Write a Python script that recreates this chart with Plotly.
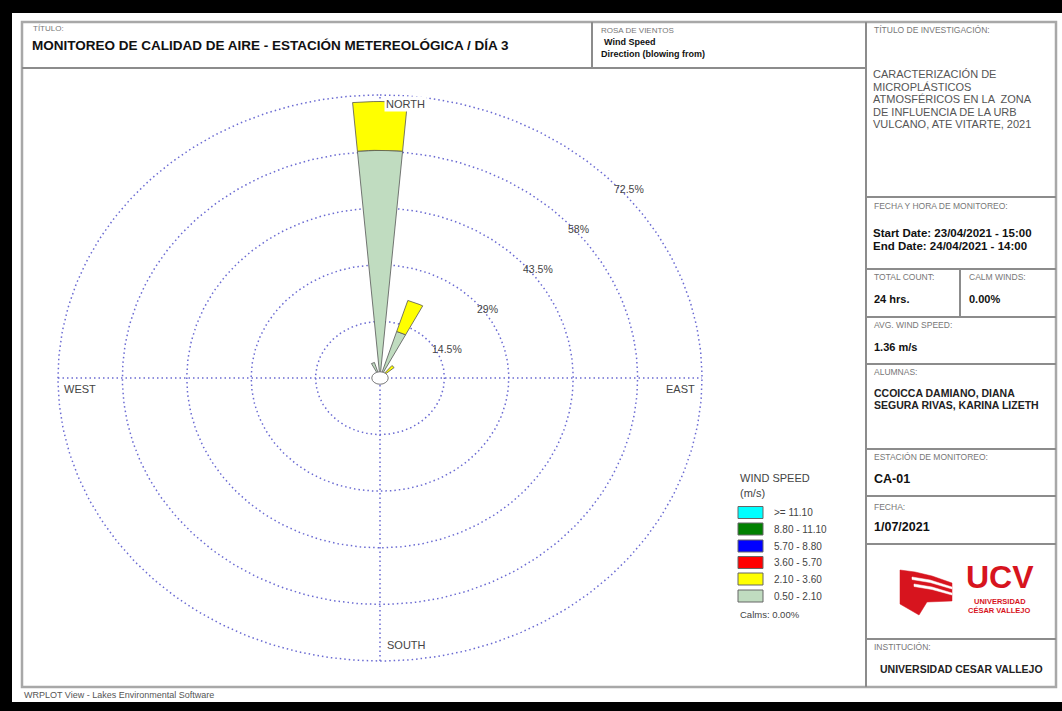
import numpy as np
import plotly.graph_objects as go

W, H = 1062, 711
FONT = "Liberation Sans, Arial, sans-serif"

# ---------------- data ----------------
directions = ["N", "NNE", "NE", "ENE", "E", "ESE", "SE", "SSE",
              "S", "SSW", "SW", "WSW", "W", "WNW", "NW", "NNW"]
dir_angles = [0.0, 22.5, 45.0, 67.5, 90.0, 112.5, 135.0, 157.5,
              180.0, 202.5, 225.0, 247.5, 270.0, 292.5, 315.0, 337.5]

speed_bins = ["0.50 - 2.10", "2.10 - 3.60", "3.60 - 5.70",
              "5.70 - 8.80", "8.80 - 11.10", ">= 11.10"]
bin_colors = ["#c0dcc0", "#ffff00", "#ff0000", "#0000ff", "#008000", "#00ffff"]

# frequency (% of hours) per direction for each speed class
freq_050_210 = [58.33, 12.50, 0.00, 0, 0, 0, 0, 0, 0, 0, 0, 0, 0, 0, 0, 4.17]
freq_210_360 = [12.50, 8.33, 4.17, 0, 0, 0, 0, 0, 0, 0, 0, 0, 0, 0, 0, 0.00]
freq_360_570 = [0, 0, 0, 0, 0, 0, 0, 0, 0, 0, 0, 0, 0, 0, 0, 0]
freq_570_880 = [0, 0, 0, 0, 0, 0, 0, 0, 0, 0, 0, 0, 0, 0, 0, 0]
freq_880_1110 = [0, 0, 0, 0, 0, 0, 0, 0, 0, 0, 0, 0, 0, 0, 0, 0]
freq_ge_1110 = [0, 0, 0, 0, 0, 0, 0, 0, 0, 0, 0, 0, 0, 0, 0, 0]
freq_series = [freq_050_210, freq_210_360, freq_360_570,
               freq_570_880, freq_880_1110, freq_ge_1110]

ring_values = [14.5, 29.0, 43.5, 58.0, 72.5]
ring_labels = ["14.5%", "29%", "43.5%", "58%", "72.5%"]
calms_text = "Calms: 0.00%"

# ---------------- geometry (pixel layout of the rose) ----------------
CX, CY = 380.0, 378.0          # centre pixel
SX = 322.0 / 72.5              # px per % horizontally
SY = 283.0 / 72.5              # px per % vertically
RANGE = 80.0
SECTOR_HALF = 5.0              # half width of a sector in degrees
GRID = dict(color="#6a6ad2", width=1.5, dash="1.5px,3px")


def PX(x):
    return x / W


def PY(y):
    return 1 - y / H


fig = go.Figure()

# rings
t = np.linspace(0, 2 * np.pi, 361)
for r in ring_values:
    fig.add_trace(go.Scatter(x=r * np.sin(t), y=r * np.cos(t), mode="lines",
                             line=GRID, hoverinfo="skip", showlegend=False))
rmax = max(ring_values)
fig.add_trace(go.Scatter(x=[-rmax, rmax], y=[0, 0], mode="lines",
                         line=GRID, hoverinfo="skip", showlegend=False))
fig.add_trace(go.Scatter(x=[0, 0], y=[-rmax, rmax], mode="lines",
                         line=GRID, hoverinfo="skip", showlegend=False))

# wedges (stacked by speed class)
for d, ang in enumerate(dir_angles):
    r0 = 0.0
    for b, series in enumerate(freq_series):
        v = series[d]
        if v <= 0:
            continue
        r1 = r0 + v
        a = np.radians(np.linspace(ang - SECTOR_HALF, ang + SECTOR_HALF, 9))
        xs = list(r1 * np.sin(a)) + list(r0 * np.sin(a[::-1]))
        ys = list(r1 * np.cos(a)) + list(r0 * np.cos(a[::-1]))
        xs.append(xs[0])
        ys.append(ys[0])
        fig.add_trace(go.Scatter(x=xs, y=ys, mode="lines", fill="toself",
                                 fillcolor=bin_colors[b],
                                 line=dict(color="#555555", width=0.8),
                                 name=f"{directions[d]} {speed_bins[b]}",
                                 hoverinfo="name", showlegend=False))
        r0 = r1

annotations = []
shapes = []

# calm circle
shapes.append(dict(type="circle", xref="x", yref="y", x0=-1.85, x1=1.85,
                   y0=-1.6, y1=1.6, fillcolor="white",
                   line=dict(color="#777777", width=1)))

# ring labels
c45 = np.cos(np.radians(45))
for r, lab in zip(ring_values, ring_labels):
    annotations.append(dict(x=r * c45, y=r * c45, xref="x", yref="y", text=lab,
                            showarrow=False, xanchor="left", yanchor="top",
                            xshift=4, yshift=-3,
                            font=dict(family=FONT, size=10.5, color="#444444")))

# cardinal labels
card = [("NORTH", 0, rmax, "left", 4, -9, True),
        ("EAST", rmax, 0, "right", -5, -11, False),
        ("SOUTH", 0, -rmax, "left", 5, 16, False),
        ("WEST", -rmax, 0, "left", 4, -11, False)]
for txt_, x, y, xa, xs_, ys_, bg in card:
    a = dict(x=x, y=y, xref="x", yref="y", text=txt_, showarrow=False,
             xanchor=xa, yanchor="middle", xshift=xs_, yshift=ys_,
             font=dict(family=FONT, size=11, color="#444444"))
    if bg:
        a["bgcolor"] = "white"
    annotations.append(a)


def txt(x, y, s, size, bold=False, color="#111111", xa="left"):
    annotations.append(dict(x=PX(x), y=PY(y), xref="paper", yref="paper",
                            text=f"<b>{s}</b>" if bold else s, showarrow=False,
                            xanchor=xa, yanchor="middle",
                            font=dict(family=FONT, size=size, color=color)))


def rect(x0, y0, x1, y1, fill=None, line=None, lw=0):
    shapes.append(dict(type="rect", xref="paper", yref="paper",
                       x0=PX(x0), x1=PX(x1), y0=PY(y1), y1=PY(y0),
                       fillcolor=fill if fill else "rgba(0,0,0,0)",
                       line=dict(color=line if line else "rgba(0,0,0,0)", width=lw)))


def hline(x0, x1, y, color="#8c8c8c", w=2):
    shapes.append(dict(type="line", xref="paper", yref="paper",
                       x0=PX(x0), x1=PX(x1), y0=PY(y), y1=PY(y),
                       line=dict(color=color, width=w)))


def vline(x, y0, y1, color="#8c8c8c", w=2):
    shapes.append(dict(type="line", xref="paper", yref="paper",
                       x0=PX(x), x1=PX(x), y0=PY(y0), y1=PY(y1),
                       line=dict(color=color, width=w)))


def path(points, fill):
    s = "M " + " L ".join(f"{PX(x):.5f},{PY(y):.5f}" for x, y in points) + " Z"
    shapes.append(dict(type="path", xref="paper", yref="paper", path=s,
                       fillcolor=fill, line=dict(color=fill, width=0.5)))


# black outer frame
rect(0, 0, W, 13, fill="black")
rect(0, 0, 12, H, fill="black")
rect(0, 702, W, H, fill="black")

# gray boxes
rect(22, 22, 1056, 687, line="#a8a8a8", lw=2.5)
hline(22, 866, 68)
vline(592, 22, 68)
vline(866, 22, 687)
for yy in [197, 269, 317, 364, 449, 496, 544, 639]:
    hline(866, 1056, yy)
vline(960, 269, 317)

LBL = "#777777"
# header
txt(31, 29, "TÍTULO:", 8, color=LBL)
txt(30, 45, "MONITOREO DE CALIDAD DE AIRE - ESTACIÓN METEREOLÓGICA / DÍA 3", 13.5, bold=True)
txt(599, 30, "ROSA DE VIENTOS", 8, color=LBL)
txt(602, 42, "Wind Speed", 9, bold=True)
txt(599, 54, "Direction (blowing from)", 9, bold=True)

# right column
txt(872, 30, "TÍTULO DE INVESTIGACIÓN:", 8.5, color=LBL)
inv_lines = ["CARACTERIZACIÓN DE", "MICROPLÁSTICOS", "ATMOSFÉRICOS EN LA  ZONA",
             "DE INFLUENCIA DE LA URB", "VULCANO, ATE VITARTE, 2021"]
for i, ln in enumerate(inv_lines):
    txt(871, 74 + 12.5 * i, ln, 11, color="#555555")
txt(872, 206, "FECHA Y HORA DE MONITOREO:", 8.5, color=LBL)
txt(871, 233, "Start Date: 23/04/2021 - 15:00", 11.5, bold=True)
txt(871, 246, "End Date: 24/04/2021 - 14:00", 11.5, bold=True)
txt(872, 277, "TOTAL COUNT:", 8.5, color=LBL)
txt(967, 277, "CALM WINDS:", 8.5, color=LBL)
txt(872, 299, "24 hrs.", 11, bold=True)
txt(967, 299, "0.00%", 11, bold=True)
txt(872, 325, "AVG. WIND SPEED:", 8.5, color=LBL)
txt(872, 347, "1.36 m/s", 11, bold=True)
txt(872, 372, "ALUMNAS:", 8.5, color=LBL)
txt(872, 393, "CCOICCA DAMIANO, DIANA", 10.5, bold=True, color="#222222")
txt(872, 405, "SEGURA RIVAS, KARINA LIZETH", 10.5, bold=True, color="#222222")
txt(872, 457, "ESTACIÓN DE MONITOREO:", 8.5, color=LBL)
txt(872, 479, "CA-01", 12.5, bold=True)
txt(872, 507, "FECHA:", 8.5, color=LBL)
txt(872, 527, "1/07/2021", 12.5, bold=True)
txt(872, 647, "INSTITUCIÓN:", 8.5, color=LBL)
txt(961, 669, "UNIVERSIDAD CESAR VALLEJO", 10.5, bold=True, color="#222222", xa="center")

# UCV logo
RED = "#d7141e"
path([(900, 570), (915, 572), (932, 576), (952, 583), (952, 601),
      (927, 602), (919, 615), (900, 604)], RED)
for pts in [[(912, 577), (930, 580), (952, 587), (952, 589), (930, 582.5), (912, 579.5)],
            [(914, 584), (932, 587), (952, 593), (952, 595), (932, 589.5), (914, 586.5)]]:
    path(pts, "white")
txt(1000, 577, "UCV", 32, bold=True, color=RED, xa="center")
txt(1000, 601.5, "UNIVERSIDAD", 7.5, bold=True, color=RED, xa="center")
txt(1000, 610.5, "CÉSAR VALLEJO", 7.5, bold=True, color=RED, xa="center")

# legend
txt(738, 478, "WIND SPEED", 11, color="#444444")
txt(738, 493, "(m/s)", 11, color="#444444")
leg_y = [512.5, 529, 546, 562.5, 579, 596]
for yy, col, lab in zip(leg_y, bin_colors[::-1], speed_bins[::-1]):
    rect(738, yy - 6, 763, yy + 6, fill=col, line="#666666", lw=1)
    txt(772, yy, lab, 10, color="#444444")
txt(738, 614, calms_text, 9.5, color="#444444")

# footer
txt(22, 695, "WRPLOT View - Lakes Environmental Software", 9, color="#555555")

fig.update_layout(
    width=W, height=H, margin=dict(l=0, r=0, t=0, b=0),
    paper_bgcolor="white", plot_bgcolor="white", showlegend=False,
    xaxis=dict(range=[-RANGE, RANGE], domain=[PX(CX - RANGE * SX), PX(CX + RANGE * SX)],
               visible=False, fixedrange=True),
    yaxis=dict(range=[-RANGE, RANGE], domain=[PY(CY + RANGE * SY), PY(CY - RANGE * SY)],
               visible=False, fixedrange=True),
    shapes=shapes, annotations=annotations,
)

fig.write_html("out.html")
